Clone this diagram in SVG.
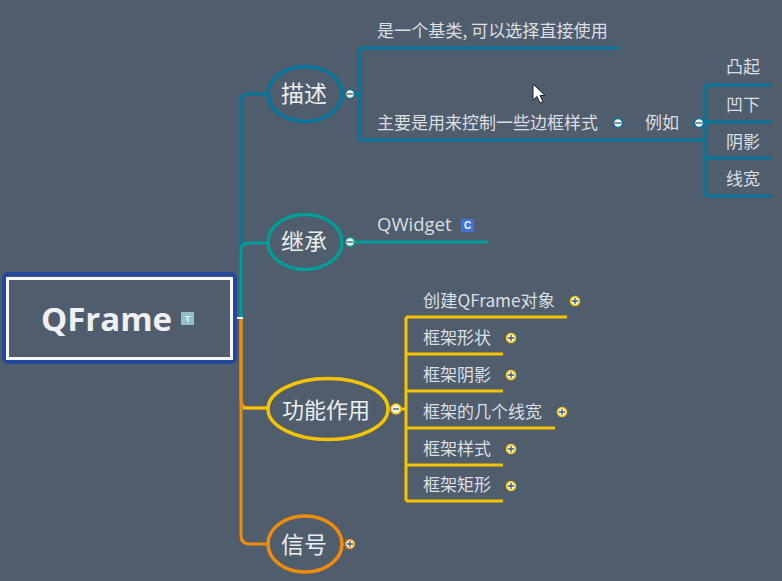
<svg xmlns="http://www.w3.org/2000/svg" width="782" height="581" viewBox="0 0 782 581">
<style>
text{font-family:"Noto Sans CJK SC","Liberation Sans",sans-serif;fill:#e4e6e8}
.t{font-size:17px;fill:#dcdfe2}
.m{font-size:23px;fill:#eceef0;text-anchor:middle}
.l{fill:none;stroke-width:3;stroke-linejoin:round}
.b{stroke:#04759c}.g{stroke:#009c98}.y{stroke:#f5c400}.o{stroke:#f08c0a}
.n{fill:#505d6c;stroke-width:3.5}
.ic{stroke-width:1.6;fill:#f4f4ee}
.s{stroke:#46586a;stroke-width:1.3;fill:none}
</style>
<rect width="782" height="581" fill="#505d6c"/>
<g id="connectors">
<path class="l b" d="M268 94H249Q241 94 241 102V318"/>
<path class="l g" d="M268 243H249Q241 243 241 251V318"/>
<path class="l o" d="M241 318V400Q241 408 249 408H268"/>
<path class="l y" d="M243 408H268"/>
<path class="l o" d="M241 318V535Q241 544 250 544H268"/>
<path d="M232 318H243" stroke="#f2f4f6" stroke-width="2" fill="none"/>
<path class="l b" d="M355 94H360V48M360 48H619M360 94V140H705"/>
<path class="l b" d="M705 140V89Q705 85 709 85H772M705 122H772M705 158H772M705 140V192Q705 196 709 196H772"/>
<path class="l g" d="M355 242H488"/>
<path class="l y" d="M401 409H406M406 317V501M406 317H567M406 354H503M406 391H503M406 428H555M406 465H503M406 501H503"/>
</g>
<g id="root">
<rect x="4" y="274" width="231" height="88" rx="4" fill="none" stroke="#24479b" stroke-width="4"/>
<rect x="7.500" y="278.500" width="224" height="80" fill="#505d6c" stroke="#f5f6f7" stroke-width="3"/>
<text x="106.500" y="331" font-size="33" font-weight="700" text-anchor="middle" style="font-family:'Open Sans','Liberation Sans',sans-serif;fill:#eef0f2">QFrame</text>
<rect x="181" y="312" width="13" height="13" fill="#8fc0cc"/>
<text x="187.500" y="322" font-size="9" font-weight="700" text-anchor="middle" style="font-family:'Liberation Sans',sans-serif;fill:#f4f8fa">T</text>
</g>
<g id="n-miaoshu">
<ellipse class="n b" cx="305" cy="94" rx="37" ry="27.500"/>
<text class="m" x="304" y="102">描述</text>
<circle class="ic b" cx="350" cy="94" r="4.500"/><path class="s" d="M347 94h6"/>
</g>
<g id="n-jicheng">
<ellipse class="n g" cx="305" cy="242" rx="37" ry="27.500"/>
<text class="m" x="304" y="250">继承</text>
<circle class="ic g" cx="350" cy="242" r="4.500"/><path class="s" d="M347 242h6"/>
</g>
<g id="n-gongneng">
<ellipse class="n y" cx="328" cy="409" rx="60" ry="30.500"/>
<text class="m" x="326" y="418" style="font-size:22px">功能作用</text>
<circle class="ic y" cx="396" cy="409" r="5"/><path class="s" d="M393 409h6"/>
</g>
<g id="n-xinhao">
<ellipse class="n o" cx="305" cy="544" rx="37" ry="28"/>
<text class="m" x="304" y="553">信号</text>
<circle class="ic o" cx="350" cy="544" r="4.500"/><path class="s" d="M347 544h6M350 541v6"/>
</g>
<g id="n-base"><text class="t" x="377" y="37" style="font-size:17.100px">是一个基类, 可以选择直接使用</text></g>
<g id="n-main"><text class="t" x="377" y="129">主要是用来控制一些边框样式</text>
<circle class="ic b" cx="618" cy="123" r="4.500"/><path class="s" d="M615 123h6"/></g>
<g id="n-liru"><text class="t" x="645" y="129">例如</text>
<circle class="ic b" cx="699" cy="123" r="4.500"/><path class="s" d="M696 123h6"/></g>
<g id="n-tuqi"><text class="t" x="726" y="73">凸起</text></g>
<g id="n-aoxia"><text class="t" x="726" y="111">凹下</text></g>
<g id="n-yinying"><text class="t" x="726" y="148">阴影</text></g>
<g id="n-xiankuan"><text class="t" x="726" y="185">线宽</text></g>
<g id="n-qwidget"><text class="t" x="377" y="231" style="font-family:'Open Sans','Liberation Sans',sans-serif;font-size:18.500px">QWidget</text>
<rect x="461" y="219" width="13" height="13" fill="#3f73d8"/>
<text x="467.500" y="229" font-size="10" font-weight="700" text-anchor="middle" style="font-family:'Liberation Sans',sans-serif;fill:#f4f8fe">C</text></g>
<g id="n-create"><text class="t" x="423" y="307" style="font-size:17.200px">创建QFrame对象</text><circle class="ic y" cx="575" cy="301" r="4.500"/><path class="s" d="M572 301h6M575 298v6"/></g>
<g id="n-xingzhuang"><text class="t" x="423" y="344">框架形状</text><circle class="ic y" cx="511" cy="338" r="4.500"/><path class="s" d="M508 338h6M511 335v6"/></g>
<g id="n-kjyy"><text class="t" x="423" y="381">框架阴影</text><circle class="ic y" cx="511" cy="375" r="4.500"/><path class="s" d="M508 375h6M511 372v6"/></g>
<g id="n-kjxk"><text class="t" x="423" y="418">框架的几个线宽</text><circle class="ic y" cx="562" cy="412" r="4.500"/><path class="s" d="M559 412h6M562 409v6"/></g>
<g id="n-kjys"><text class="t" x="423" y="455">框架样式</text><circle class="ic y" cx="511" cy="449" r="4.500"/><path class="s" d="M508 449h6M511 446v6"/></g>
<g id="n-kjjx"><text class="t" x="423" y="491">框架矩形</text><circle class="ic y" cx="511" cy="486" r="4.500"/><path class="s" d="M508 486h6M511 483v6"/></g>
<path id="cursor" d="M533 84V100L537 96.500L540 103L543 101.500L540 95.500H545Z" fill="#fff" stroke="#222" stroke-width="1"/>
</svg>
